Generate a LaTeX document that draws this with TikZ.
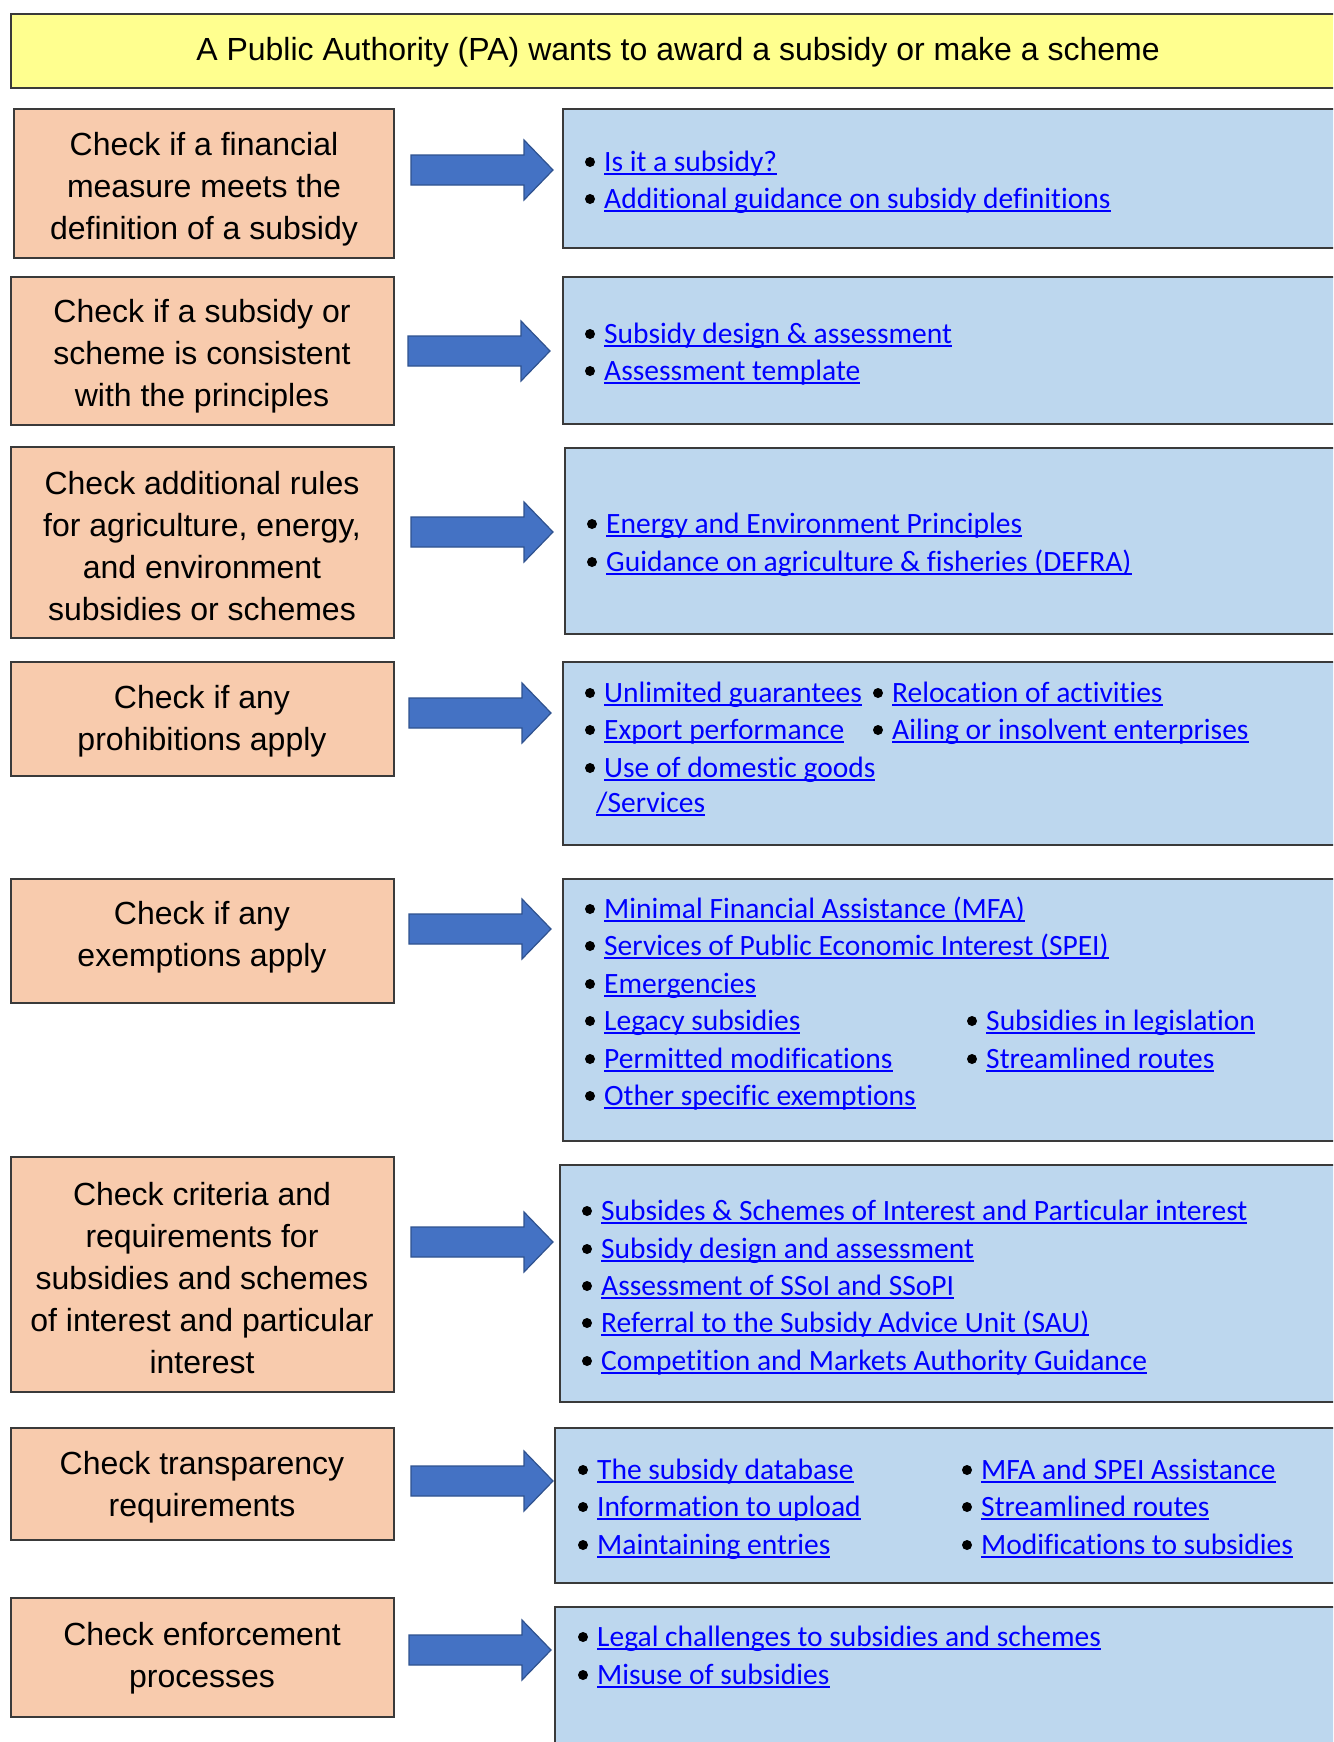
\documentclass[tikz,border=0pt]{standalone}
\usepackage{fontspec}
\setmainfont{Liberation Sans}
\newfontfamily\linkfont[Ligatures=NoCommon]{Carlito}
\definecolor{ttlfill}{HTML}{FFFF8F}
\definecolor{peach}{HTML}{F8CBAD}
\definecolor{paleblue}{HTML}{BDD7EE}
\definecolor{arrowfill}{HTML}{4472C4}
\definecolor{arrowedge}{HTML}{2F528F}
\definecolor{linkblue}{HTML}{0000FF}
\definecolor{edge}{HTML}{3A3A3A}
\newsavebox\lnkbox
\newcommand{\lnk}[1]{\sbox\lnkbox{\color{linkblue}#1}{\color{linkblue}\rlap{\rule[-4.2pt]{\wd\lnkbox}{2pt}}\usebox\lnkbox}}
% bullet item: node name, bullet left x, baseline y, text
\newcommand{\titem}[4]{%
  \fill[black] (#2+5,#3-9) circle (5);
  \node[itemtext] (#1) at (#2+19,#3) {\lnk{#4}};}
\newcommand{\blockarrow}[3]{% name, left x, center y
  \draw[arrowstyle] (#2,#3-15) -- (#2+113,#3-15) -- (#2+113,#3-30) -- (#2+142,#3)
    -- (#2+113,#3+30) -- (#2+113,#3+15) -- (#2,#3+15) -- cycle;
  \coordinate (#1) at (#2+142,#3);}
\tikzset{
  ttlbox/.style={draw=edge, line width=1.3pt, fill=ttlfill, inner sep=0pt},
  lbox/.style={draw=edge, line width=1.3pt, fill=peach, inner sep=0pt,
    align=center, font=\fontsize{32}{42}\selectfont},
  bbox/.style={draw=edge, line width=1.3pt, fill=paleblue, inner sep=0pt},
  itemtext/.style={anchor=base west, inner sep=0pt, font=\linkfont\fontsize{29.5}{36}\selectfont},
  arrowstyle/.style={fill=arrowfill, draw=arrowedge, line width=1.2pt, line join=miter},
}
\begin{document}
\begin{tikzpicture}[x=1pt,y=-1pt]
\useasboundingbox (0,0) rectangle (1333,1742);
\clip (0,0) rectangle (1333,1742);
\fill[white] (0,0) rectangle (1333,1742);
% title
\draw[ttlbox] (11,14) rectangle (1345,88);
\node[font=\fontsize{32}{40}\selectfont, inner sep=0pt] (title) at (678,52) {A Public Authority (PA) wants to award a subsidy or make a scheme};
% left boxes
\draw[lbox] (14,109) rectangle (394,258);
\node[lbox, draw=none, fill=none] (c1) at (204,189) {Check if a financial\\measure meets the\\definition of a subsidy};
\draw[lbox] (11,277) rectangle (394,425);
\node[lbox, draw=none, fill=none] (c2) at (202,356) {Check if a subsidy or\\scheme is consistent\\with the principles};
\draw[lbox] (11,447) rectangle (394,638);
\node[lbox, draw=none, fill=none] (c3) at (202,546) {Check additional rules\\for agriculture, energy,\\and environment\\subsidies or schemes};
\draw[lbox] (11,662) rectangle (394,776);
\node[lbox, draw=none, fill=none] (c4) at (202,721) {Check if any\\prohibitions apply};
\draw[lbox] (11,879) rectangle (394,1003);
\node[lbox, draw=none, fill=none] (c5) at (202,937) {Check if any\\exemptions apply};
\draw[lbox] (11,1157) rectangle (394,1392);
\node[lbox, draw=none, fill=none] (c6) at (202,1278) {Check criteria and\\requirements for\\subsidies and schemes\\of interest and particular\\interest};
\draw[lbox] (11,1428) rectangle (394,1540);
\node[lbox, draw=none, fill=none] (c7) at (202,1487) {Check transparency\\requirements};
\draw[lbox] (11,1598) rectangle (394,1717);
\node[lbox, draw=none, fill=none] (c8) at (202,1658) {Check enforcement\\processes};
% arrows
\blockarrow{a1}{411}{170}
\blockarrow{a2}{408}{351}
\blockarrow{a3}{411}{532}
\blockarrow{a4}{409}{713}
\blockarrow{a5}{409}{929}
\blockarrow{a6}{411}{1242}
\blockarrow{a7}{411}{1481}
\blockarrow{a8}{409}{1650}
% blue boxes
\draw[bbox] (563,109) rectangle (1345,248);
\draw[bbox] (563,277) rectangle (1345,424);
\draw[bbox] (565,448) rectangle (1345,634);
\draw[bbox] (563,662) rectangle (1345,845);
\draw[bbox] (563,879) rectangle (1345,1141);
\draw[bbox] (560,1165) rectangle (1345,1402);
\draw[bbox] (555,1428) rectangle (1345,1583);
\draw[bbox] (555,1607) rectangle (1345,1760);
% box 1
\titem{i11}{585}{171}{Is it a subsidy?}
\titem{i12}{585}{208}{Additional guidance on subsidy definitions}
% box 2
\titem{i21}{585}{343}{Subsidy design \& assessment}
\titem{i22}{585}{380}{Assessment template}
% box 3
\titem{i31}{587}{533}{Energy and Environment Principles}
\titem{i32}{587}{571}{Guidance on agriculture \& fisheries (DEFRA)}
% box 4
\titem{i41}{585}{702}{Unlimited guarantees}
\titem{i42}{873}{702}{Relocation of activities}
\titem{i43}{585}{739}{Export performance}
\titem{i44}{873}{739}{Ailing or insolvent enterprises}
\titem{i45}{585}{777}{Use of domestic goods}
\node[itemtext] (i46) at (596,812) {\lnk{/Services}};
% box 5
\titem{i51}{585}{918}{Minimal Financial Assistance (MFA)}
\titem{i52}{585}{955}{Services of Public Economic Interest (SPEI)}
\titem{i53}{585}{993}{Emergencies}
\titem{i54}{585}{1030}{Legacy subsidies}
\titem{i55}{967}{1030}{Subsidies in legislation}
\titem{i56}{585}{1068}{Permitted modifications}
\titem{i57}{967}{1068}{Streamlined routes}
\titem{i58}{585}{1105}{Other specific exemptions}
% box 6
\titem{i61}{582}{1220}{Subsides \& Schemes of Interest and Particular interest}
\titem{i62}{582}{1258}{Subsidy design and assessment}
\titem{i63}{582}{1295}{Assessment of SSoI and SSoPI}
\titem{i64}{582}{1332}{Referral to the Subsidy Advice Unit (SAU)}
\titem{i65}{582}{1370}{Competition and Markets Authority Guidance}
% box 7
\titem{i71}{578}{1479}{The subsidy database}
\titem{i72}{578}{1516}{Information to upload}
\titem{i73}{578}{1554}{Maintaining entries}
\titem{i74}{962}{1479}{MFA and SPEI Assistance}
\titem{i75}{962}{1516}{Streamlined routes}
\titem{i76}{962}{1554}{Modifications to subsidies}
% box 8
\titem{i81}{578}{1646}{Legal challenges to subsidies and schemes}
\titem{i82}{578}{1684}{Misuse of subsidies}
\end{tikzpicture}
\end{document}
